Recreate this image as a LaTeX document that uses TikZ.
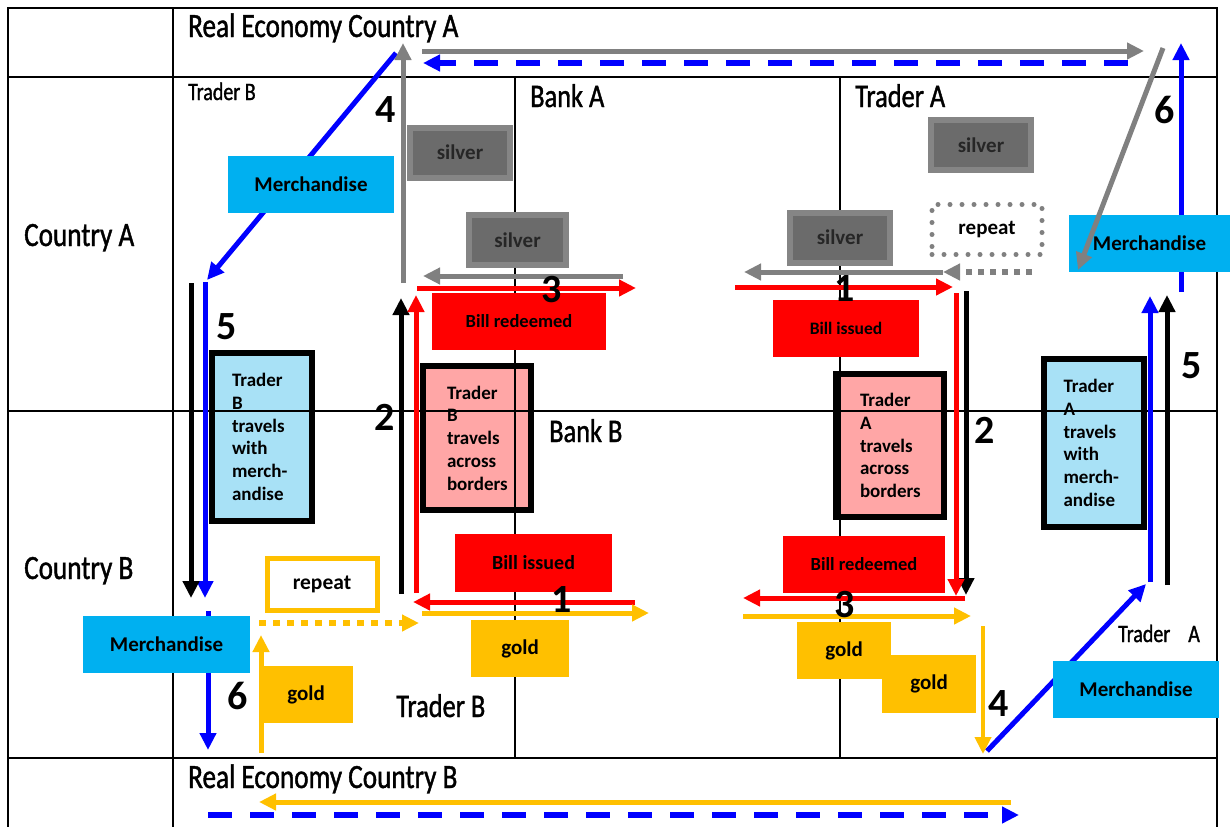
\documentclass[tikz,border=0pt]{standalone}
\usepackage{fontspec}
\setmainfont{Carlito}
\newfontfamily\condfont[FakeStretch=0.8, FakeBold=1.2]{Carlito}
\usetikzlibrary{arrows.meta, positioning}

\definecolor{merchblue}{HTML}{00B0F0}
\definecolor{travelblue}{HTML}{A8E1F6}
\definecolor{travelpink}{HTML}{FFA6A6}
\definecolor{goldfill}{HTML}{FFC000}
\definecolor{silverfill}{HTML}{6B6B6B}
\definecolor{silveredge}{HTML}{858585}
\definecolor{flowgray}{HTML}{808080}
\definecolor{flowblue}{HTML}{0000FF}
\definecolor{flowred}{HTML}{FF0000}

\begin{document}
\begin{tikzpicture}[x=1pt, y=-1pt,
        label big/.style   = {font=\condfont\fontsize{34}{40}\selectfont, inner sep=0pt, anchor=base west},
        label mid/.style   = {label big, font=\condfont\fontsize{33}{40}\selectfont},
        label small/.style = {label big, font=\condfont\fontsize{25}{30}\selectfont},
        num/.style         = {font=\bfseries\fontsize{40}{40}\selectfont, inner sep=0pt},
        basic/.style       = {inner sep=0pt, font=\bfseries\fontsize{21}{24}\selectfont},
        merchbox/.style    = {basic, fill=merchblue, minimum width=166pt, minimum height=57pt},
        silverbox/.style   = {basic, fill=silverfill, draw=silveredge, line width=6pt, text=black!85,
                              minimum width=100pt, minimum height=50pt},
        billbox/.style     = {basic, fill=flowred, minimum height=57pt, font=\bfseries\fontsize{18.5}{22}\selectfont},
        goldbox/.style     = {basic, fill=goldfill, minimum width=94pt, minimum height=57pt},
        againbox/.style    = {basic, line width=5pt, minimum width=110pt, minimum height=50pt},
        travelbox/.style   = {draw, line width=6pt, align=left, text width=60pt, inner xsep=20pt, inner ysep=0pt,
                              minimum height=168pt, font=\bfseries\fontsize{19}{22.7}\selectfont},
        flow/.style        = {line width=5pt, -{Triangle[length=17pt, width=16pt]}},
        grid line/.style   = {line width=2pt}]

    \useasboundingbox (0,0) rectangle (1230,827);

    % traders on the move, the grid shows through them
    \node[travelbox, fill=travelblue] (tB) at (262,437) {Trader\\B\\travels\\with\\merch-\\andise};
    \node[travelbox, fill=travelpink, inner xsep=24pt, minimum height=144pt] (xB) at (477,438) {Trader\\B\\travels\\across\\borders};
    \node[travelbox, fill=travelpink, inner xsep=24pt, minimum height=143pt] (xA) at (890,445.5) {Trader\\A\\travels\\across\\borders};
    \node[travelbox, fill=travelblue] (tA) at (1093.5,443) {Trader\\A\\travels\\with\\merch-\\andise};

    % frame and grid
    \draw[grid line] (8,8) -- (1217,8);
    \draw[grid line] (8,77) -- (1217,77);
    \draw[grid line] (8,411) -- (1217,411);
    \draw[grid line] (8,758) -- (1217,758);
    \draw[grid line] (8,7) -- (8,827);
    \draw[grid line] (173,7) -- (173,827);
    \draw[grid line] (1217,7) -- (1217,827);
    \draw[line width=1.5pt] (515,77) -- (515,758);
    \draw[line width=1.5pt] (840,77) -- (840,758);

    % merchandise flows hidden behind their boxes
    \foreach \nm/\xa/\ya/\xb/\yb in {bl2/396/53/207/280, bl4/208/611/208/750, bl5/987/751/1146/584, bl7/1181/292/1181/43}
        {\coordinate (\nm a) at (\xa,\ya); \coordinate (\nm b) at (\xb,\yb);
         \draw[flow, flowblue] (\nm a) -- (\nm b);}

    % boxes
    \node[merchbox] (m1) at (311,184.5) {Merchandise};
    \node[merchbox, minimum width=161pt] (m2) at (1149.5,243.5) {Merchandise};
    \node[merchbox, minimum width=167pt] (m3) at (166.5,644.5) {Merchandise};
    \node[merchbox] (m4) at (1136,689.5) {Merchandise};

    \node[silverbox] (s1) at (460,152.5) {silver};
    \node[silverbox, minimum width=97pt] (s2) at (517.5,240) {silver};
    \node[silverbox] (s3) at (981,145) {silver};
    \node[silverbox] (s4) at (840,237.5) {silver};

    \node[againbox, draw=flowgray, dash pattern=on 0pt off 12pt, line cap=round] (r1) at (987,229.5) {repeat};
    \node[againbox, draw=goldfill, fill=white, minimum height=52pt, font=\bfseries\fontsize{21.5}{24}\selectfont] (r2) at (322,584.5) {repeat};

    \node[billbox, minimum width=174pt] (b1) at (519,321.5) {Bill redeemed};
    \node[billbox, minimum width=146pt, font=\bfseries\fontsize{17.5}{22}\selectfont] (b2) at (846,328.5) {Bill issued};
    \node[billbox, minimum width=157pt, minimum height=58pt, font=\bfseries\fontsize{20}{22}\selectfont] (b3) at (533.5,563) {Bill issued};
    \node[billbox, minimum width=162pt] (b4) at (864,564.5) {Bill redeemed};

    \node[goldbox, minimum width=98pt] (g1) at (520,648.5) {gold};
    \node[goldbox] (g2) at (306,694.5) {gold};
    \node[goldbox] (g3) at (844,650.5) {gold};
    \node[goldbox, minimum height=58pt] (g4) at (929,684) {gold};

    % labels
    \node[label big] (reA) at (188,37) {Real Economy Country A};
    \node[label big] (reB) at (188,788) {Real Economy Country B};
    \node[label big] (cA) at (24,246) {Country A};
    \node[label big] (cB) at (24,579) {Country B};
    \node[label small] (trB1) at (188,100) {Trader B};
    \node[label mid] (bkA) at (530,107) {Bank A};
    \node[label mid] (trA1) at (855,107) {Trader A};
    \node[label mid] (bkB) at (549,442) {Bank B};
    \node[label mid] (trB2) at (396,717) {Trader B};
    \node[label small] (trA2) at (1118,642) {Trader\hspace{18pt}A};

    % silver, bills, gold and goods moving around
    \foreach \nm/\xa/\ya/\xb/\yb in {gy1/422/51/1144/51, gy2/403/283/403/43, gy3/1163/48/1078/270,
                                     gy4/623/276/423/276, gy5/943/272/744/272}
        {\coordinate (\nm a) at (\xa,\ya); \coordinate (\nm b) at (\xb,\yb);
         \draw[flow, flowgray] (\nm a) -- (\nm b);}
    \coordinate (gy6a) at (1032,272); \coordinate (gy6b) at (943,272);
    \draw[flow, flowgray, dash pattern=on 6pt off 6pt, line width=6pt] (gy6a) -- (gy6b);

    \foreach \nm/\xa/\ya/\xb/\yb in {bl3/205/282/205/598, bl6/1150/582/1150/296}
        {\coordinate (\nm a) at (\xa,\ya); \coordinate (\nm b) at (\xb,\yb);
         \draw[flow, flowblue] (\nm a) -- (\nm b);}
    \foreach \nm/\xa/\ya/\xb/\yb in {bl1/1128/63/423/63, bl8/208/815/1019/815}
        {\coordinate (\nm a) at (\xa,\ya); \coordinate (\nm b) at (\xb,\yb);
         \draw[flow, flowblue, line width=6pt, dash pattern=on 24pt off 18pt] (\nm a) -- (\nm b);}

    \foreach \nm/\xa/\ya/\xb/\yb in {bk1/191/283/191/598, bk2/401/594/401/298, bk3/966/291/966/595, bk4/1167/585/1167/295}
        {\coordinate (\nm a) at (\xa,\ya); \coordinate (\nm b) at (\xb,\yb);
         \draw[flow, black] (\nm a) -- (\nm b);}

    \foreach \nm/\xa/\ya/\xb/\yb in {rd1/416/593/416/295, rd2/417/288/636/288, rd3/735/287/953/287,
                                     rd4/956/293/956/596, rd5/965/598/743/598, rd6/635/602/413/602}
        {\coordinate (\nm a) at (\xa,\ya); \coordinate (\nm b) at (\xb,\yb);
         \draw[flow, flowred] (\nm a) -- (\nm b);}

    \foreach \nm/\xa/\ya/\xb/\yb in {yw1/422/613/649/613, yw2/743/616/971/616, yw4/261/753/261/635, yw6/1011/802/259/802}
        {\coordinate (\nm a) at (\xa,\ya); \coordinate (\nm b) at (\xb,\yb);
         \draw[flow, goldfill] (\nm a) -- (\nm b);}
    \coordinate (yw3a) at (983,626); \coordinate (yw3b) at (983,754);
    \draw[flow, goldfill, line width=4pt] (yw3a) -- (yw3b);
    \coordinate (yw5a) at (259,623); \coordinate (yw5b) at (419,623);
    \draw[flow, goldfill, dash pattern=on 7pt off 7pt, line width=6pt] (yw5a) -- (yw5b);

    % step numbers
    \node[num] (n4a) at (386,110) {4};
    \node[num] (n6a) at (1165,110) {6};
    \node[num] (n3a) at (552,290) {3};
    \node[num] (n1a) at (845,289) {1};
    \node[num] (n5a) at (227,327) {5};
    \node[num] (n2a) at (385,417) {2};
    \node[num] (n2b) at (985,430) {2};
    \node[num] (n5b) at (1192,366) {5};
    \node[num] (n1b) at (562,600) {1};
    \node[num] (n3b) at (845,605) {3};
    \node[num] (n6b) at (238,696) {6};
    \node[num] (n4b) at (999,704) {4};

\end{tikzpicture}
\end{document}
